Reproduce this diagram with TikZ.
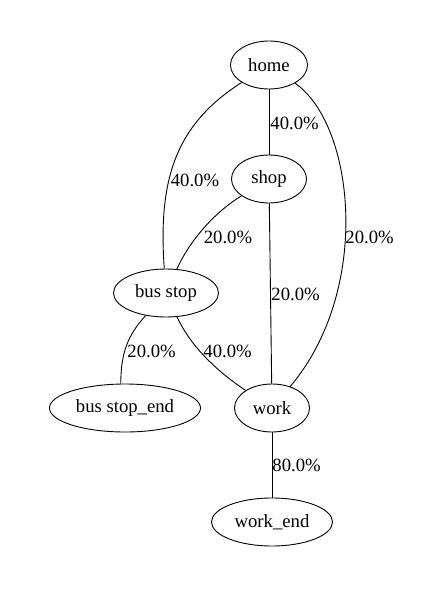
\documentclass[tikz,border=0pt]{standalone}
\usepackage{fontspec}
\setmainfont{Liberation Serif}
\usetikzlibrary{shapes.geometric}
\begin{document}
\begin{tikzpicture}[x=1pt, y=-1pt, line width=0.9pt, font=\fontsize{18.7}{22}\selectfont,
  place/.style={draw, ellipse, inner sep=0pt, minimum height=48pt},
  pct/.style={inner sep=0pt}]
  \useasboundingbox (0,0) rectangle (446,592);
  % states
  \node[place, minimum width=77pt] (home) at (269,65) {home};
  \node[place, minimum width=75pt] (shop) at (269,179) {shop};
  \node[place, minimum width=105pt] (busstop) at (166,293) {bus stop};
  \node[place, minimum width=151pt] (busend) at (125,408) {bus stop\_end};
  \node[place, minimum width=75pt] (work) at (272,408) {work};
  \node[place, minimum width=121pt] (workend) at (272,522) {work\_end};
  % transitions
  \draw (home) -- (shop);
  \draw (home) .. controls (175,125) and (158,180) .. (busstop);
  \draw (home) .. controls (355,125) and (372,290) .. (work);
  \draw (shop) .. controls (215,212) and (190,240) .. (busstop);
  \draw (shop) -- (work);
  \draw (busstop) .. controls (128,335) and (121,352) .. (busend.100);
  \draw (busstop) .. controls (190,345) and (215,370) .. (work);
  \draw (work) -- (workend);
  % probabilities
  \node[pct, anchor=west] (p1) at (270,123) {40.0\%};
  \node[pct] (p2) at (195,180) {40.0\%};
  \node[pct, anchor=west] (p3) at (345,237) {20.0\%};
  \node[pct] (p4) at (228,237) {20.0\%};
  \node[pct, anchor=west] (p5) at (271,294) {20.0\%};
  \node[pct, anchor=west] (p6) at (127,351) {20.0\%};
  \node[pct, anchor=west] (p7) at (203,351) {40.0\%};
  \node[pct, anchor=west] (p8) at (272,465) {80.0\%};
\end{tikzpicture}
\end{document}
